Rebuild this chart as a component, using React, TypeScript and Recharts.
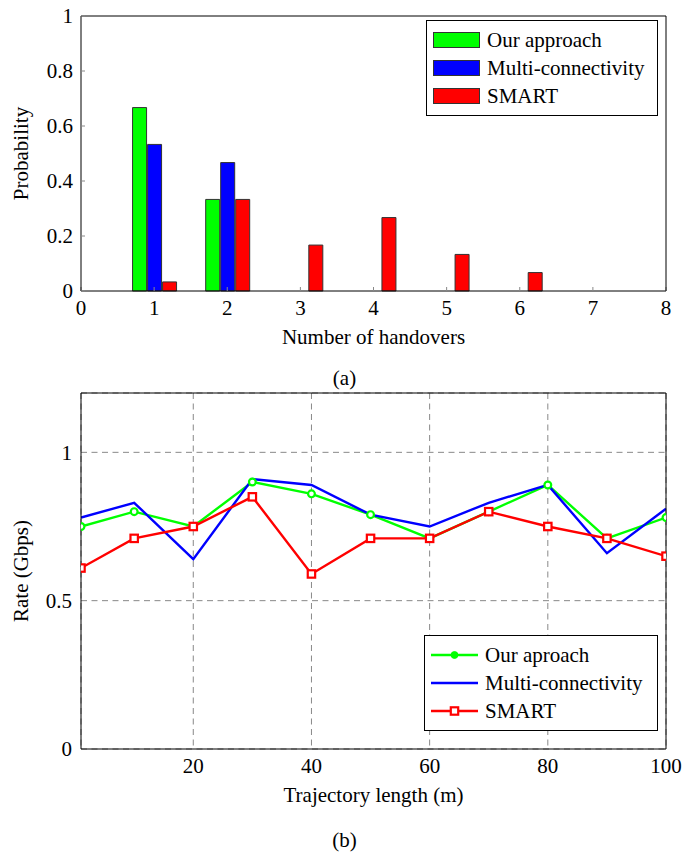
import React from "react";
import { Bar, BarChart, CartesianGrid, Legend, Line, LineChart, XAxis, YAxis } from "recharts";

// (a) handover distribution
const handovers = [1, 2, 3, 4, 5, 6];
const ourApproachProb = [0.667, 0.333, 0, 0, 0, 0];
const multiConnProb = [0.533, 0.467, 0, 0, 0, 0];
const smartProb = [0.033, 0.333, 0.167, 0.267, 0.133, 0.067];
const handoverTicks = [0, 1, 2, 3, 4, 5, 6, 7, 8];
const probTicks = [0, 0.2, 0.4, 0.6, 0.8, 1];

// (b) rate along the trajectory
const trajectory = [1, 10, 20, 30, 40, 50, 60, 70, 80, 90, 100];
const ourRate = [0.75, 0.8, 0.75, 0.9, 0.86, 0.79, 0.71, 0.8, 0.89, 0.71, 0.78];
const multiRate = [0.78, 0.83, 0.64, 0.91, 0.89, 0.79, 0.75, 0.83, 0.89, 0.66, 0.81];
const smartRate = [0.61, 0.71, 0.75, 0.85, 0.59, 0.71, 0.71, 0.8, 0.75, 0.71, 0.65];
const trajectoryTicks = [20, 40, 60, 80, 100];
const rateTicks = [0, 0.5, 1];

const seriesOrder = ["ours", "multi", "smart"];

const barData = handovers.map((x, i) => ({
  x,
  ours: ourApproachProb[i],
  multi: multiConnProb[i],
  smart: smartProb[i],
}));

const lineData = trajectory.map((x, i) => ({
  x,
  ours: ourRate[i],
  multi: multiRate[i],
  smart: smartRate[i],
}));

const FONT = "Liberation Serif, DejaVu Serif, Times New Roman, serif";
const tickStyle = { fontSize: 21, fill: "#000", fontFamily: FONT };

const xLabel = (text: string) => (props: any) => {
  const vb = props.viewBox;
  return (
    <text x={vb.x + vb.width / 2} y={vb.y + 46} textAnchor="middle" dominantBaseline="central"
      fontFamily={FONT} fontSize={21} fill="#000">
      {text}
    </text>
  );
};

const yLabel = (text: string) => (props: any) => {
  const vb = props.viewBox;
  const cx = 21;
  const cy = vb.y + vb.height / 2;
  return (
    <text x={cx} y={cy} textAnchor="middle" dominantBaseline="central" transform={`rotate(-90, ${cx}, ${cy})`}
      fontFamily={FONT} fontSize={21} fill="#000">
      {text}
    </text>
  );
};

const greenDot = (p: any) => (
  <circle key={`g${p.index}`} cx={p.cx} cy={p.cy} r={3.4} fill="#fff" stroke="#00ff00" strokeWidth={2.2} />
);
const redDot = (p: any) => (
  <rect key={`r${p.index}`} x={p.cx - 3.7} y={p.cy - 3.7} width={7.4} height={7.4} fill="#fff" stroke="#ff0000" strokeWidth={2.2} />
);

const markerOf: Record<string, string> = { ours: "circle", multi: "none", smart: "square" };

function LegendBox({ payload, kind }: any) {
  const items = [...(payload || [])].sort(
    (a: any, b: any) => seriesOrder.indexOf(a.dataKey) - seriesOrder.indexOf(b.dataKey)
  );
  return (
    <div style={{ border: "1px solid #000", background: "#fff", padding: "5px 6px", fontFamily: FONT }}>
      {items.map((e: any) => (
        <div key={e.value} style={{ display: "flex", alignItems: "center", height: 28 }}>
          <svg width={47} height={16} style={{ flex: "none" }}>
            {kind === "bar" ? (
              <rect x={0.5} y={0.5} width={46} height={15} fill={e.color} stroke="#333" />
            ) : (
              <g>
                <line x1={0} x2={47} y1={8} y2={8} stroke={e.color} strokeWidth={2.4} />
                {markerOf[e.dataKey] === "circle" && (
                  <circle cx={23.5} cy={8} r={3.4} fill={e.color} stroke={e.color} strokeWidth={1} />
                )}
                {markerOf[e.dataKey] === "square" && (
                  <rect x={19.8} y={4.3} width={7.4} height={7.4} fill="#fff" stroke={e.color} strokeWidth={2.2} />
                )}
              </g>
            )}
          </svg>
          <span style={{ marginLeft: 7, fontSize: 21, lineHeight: "28px", whiteSpace: "nowrap" }}>{e.value}</span>
        </div>
      ))}
    </div>
  );
}

const caption = (text: string, top: number) => (
  <div style={{ position: "absolute", left: 0, top, width: 689, textAlign: "center", fontFamily: FONT, fontSize: 21, lineHeight: "24px" }}>
    {text}
  </div>
);

export default function App() {
  return (
    <div style={{ position: "absolute", left: 0, top: 0, width: 689, height: 852, background: "#fff", fontFamily: FONT }}>
      <div style={{ position: "absolute", left: 0, top: 0 }}>
        <BarChart width={689} height={350} data={barData} margin={{ top: 15, right: 22, bottom: 0, left: 0 }} barGap={1}>
          <XAxis dataKey="x" type="number" domain={[0, 8]} ticks={handoverTicks} interval={0} allowDataOverflow
            height={59} tickSize={-4} tickMargin={13} tickLine={{ stroke: "#888" }} axisLine={{ stroke: "#000" }}
            tick={tickStyle} label={xLabel("Number of handovers")} />
          <XAxis xAxisId="top" orientation="top" type="number" domain={[0, 8]} ticks={handoverTicks} interval={0}
            height={1} tickSize={-4} tick={false} tickLine={{ stroke: "#888" }} axisLine={{ stroke: "#000" }} />
          <YAxis type="number" domain={[0, 1]} ticks={probTicks} interval={0} width={81} tickSize={-4} tickMargin={12}
            tickLine={{ stroke: "#888" }} axisLine={{ stroke: "#000" }} tick={tickStyle} label={yLabel("Probability")} />
          <YAxis yAxisId="right" orientation="right" type="number" domain={[0, 1]} ticks={probTicks} interval={0}
            width={1} tickSize={-4} tick={false} tickLine={{ stroke: "#888" }} axisLine={{ stroke: "#000" }} />
          <Legend layout="vertical" align="center" verticalAlign="middle"
            wrapperStyle={{ left: 426, top: 20, width: 232, bottom: "auto", right: "auto" }}
            content={(p: any) => <LegendBox payload={p.payload} kind="bar" />} />
          <Bar dataKey="ours" name="Our approach" fill="#00ff00" stroke="#333" strokeWidth={1} barSize={14} isAnimationActive={false} />
          <Bar dataKey="multi" name="Multi-connectivity" fill="#0000ff" stroke="#333" strokeWidth={1} barSize={14} isAnimationActive={false} />
          <Bar dataKey="smart" name="SMART" fill="#ff0000" stroke="#333" strokeWidth={1} barSize={14} isAnimationActive={false} />
        </BarChart>
      </div>
      {caption("(a)", 366)}
      <div style={{ position: "absolute", left: 0, top: 380 }}>
        <LineChart width={689} height={472} data={lineData} margin={{ top: 12, right: 22, bottom: 0, left: 0 }}>
          <CartesianGrid stroke="#888" strokeDasharray="6 4.5" />
          <XAxis dataKey="x" type="number" domain={[1, 100]} ticks={trajectoryTicks} interval={0} allowDataOverflow
            height={103} tickSize={0} tickMargin={9} tickLine={false} axisLine={{ stroke: "#000" }}
            tick={tickStyle} label={xLabel("Trajectory length (m)")} />
          <XAxis xAxisId="top" orientation="top" type="number" domain={[1, 100]} ticks={trajectoryTicks}
            height={1} tick={false} tickLine={false} axisLine={{ stroke: "#000" }} />
          <YAxis type="number" domain={[0, 1.2]} ticks={rateTicks} interval={0} width={81} tickSize={0} tickMargin={9}
            tickLine={false} axisLine={{ stroke: "#000" }} tick={tickStyle} label={yLabel("Rate (Gbps)")} allowDataOverflow />
          <YAxis yAxisId="right" orientation="right" type="number" domain={[0, 1.2]} ticks={rateTicks}
            width={1} tick={false} tickLine={false} axisLine={{ stroke: "#000" }} />
          <Legend layout="vertical" align="center" verticalAlign="middle"
            wrapperStyle={{ left: 424, top: 255, width: 234, bottom: "auto", right: "auto" }}
            content={(p: any) => <LegendBox payload={p.payload} kind="line" />} />
          <Line type="linear" dataKey="ours" name="Our aproach" stroke="#00ff00" strokeWidth={2.4} dot={greenDot} activeDot={false} isAnimationActive={false} />
          <Line type="linear" dataKey="multi" name="Multi-connectivity" stroke="#0000ff" strokeWidth={2.4} dot={false} activeDot={false} isAnimationActive={false} />
          <Line type="linear" dataKey="smart" name="SMART" stroke="#ff0000" strokeWidth={2.4} dot={redDot} activeDot={false} isAnimationActive={false} />
        </LineChart>
      </div>
      {caption("(b)", 828)}
    </div>
  );
}
